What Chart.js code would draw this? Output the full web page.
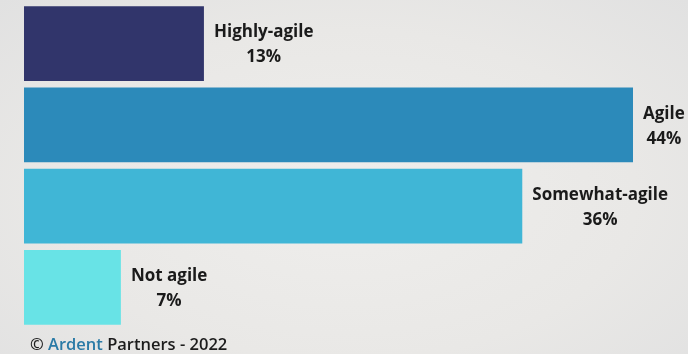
<!DOCTYPE html>
<html>
<head>
<meta charset="utf-8">
<script src="https://cdn.jsdelivr.net/npm/chart.js@4.4.1/dist/chart.umd.min.js"></script>
<style>
  html, body {
    margin: 0;
    padding: 0;
    width: 688px;
    height: 354px;
    overflow: hidden;
    background: radial-gradient(ellipse at 50% 55%, #efeeec 0%, #e9e8e6 60%, #e1e1e1 100%);
    font-family: "Open Sans", sans-serif;
  }
  #wrap {
    position: absolute;
    left: 0;
    top: 0;
    width: 688px;
    height: 354px;
  }
  #footer {
    position: absolute;
    left: 30px;
    top: 332px;
    font-size: 16.5px;
    font-weight: 600;
    color: #1c1c1c;
    white-space: nowrap;
  }
  #footer .brand { color: #2a7aa6; }
</style>
</head>
<body>
<div id="wrap"><canvas id="agility-chart"></canvas></div>
<div id="footer">© <span class="brand">Ardent</span> Partners - 2022</div>

<script>
// Agility levels (Ardent Partners 2022)
const categories = ["Highly-agile", "Agile", "Somewhat-agile", "Not agile"];
const shares = [13, 44, 36, 7];
const valueLabels = ["13%", "44%", "36%", "7%"];

const BAR_COLORS = ["#31356b", "#2c8aba", "#40b6d6", "#68e3e6"];

// draws "name / value" next to the end of each bar
const barLabels = {
  id: "barLabels",
  afterDatasetsDraw(chart) {
    const ctx = chart.ctx;
    const meta = chart.getDatasetMeta(0);
    ctx.save();
    ctx.font = "bold 17px 'Open Sans', sans-serif";
    ctx.fillStyle = "#1a1a1a";
    ctx.textAlign = "center";
    ctx.textBaseline = "middle";
    meta.data.forEach((bar, i) => {
      const l1 = categories[i];
      const l2 = valueLabels[i];
      const w = Math.max(ctx.measureText(l1).width, ctx.measureText(l2).width);
      const cx = bar.x + 10 + w / 2;
      ctx.fillText(l1, cx, bar.y - 11);
      ctx.fillText(l2, cx, bar.y + 14);
    });
    ctx.restore();
  }
};

document.addEventListener("DOMContentLoaded", () => {
  const canvas = document.getElementById("agility-chart");
  if (!canvas) {
    console.error("Canvas #agility-chart not found.");
    return;
  }

  new Chart(canvas.getContext("2d"), {
    type: "bar",
    data: {
      labels: categories,
      datasets: [
        {
          data: shares,
          backgroundColor: BAR_COLORS,
          borderWidth: 0,
          barPercentage: 0.96,
          categoryPercentage: 0.96
        }
      ]
    },
    options: {
      indexAxis: "y",
      responsive: true,
      maintainAspectRatio: false,
      animation: false,
      layout: {
        padding: { left: 24, right: 55, top: 3, bottom: 26 }
      },
      scales: {
        x: { display: false, min: 0, max: 44 },
        y: { display: false }
      },
      plugins: {
        legend: { display: false },
        tooltip: { enabled: false }
      }
    },
    plugins: [barLabels]
  });
});
</script>
</body>
</html>
